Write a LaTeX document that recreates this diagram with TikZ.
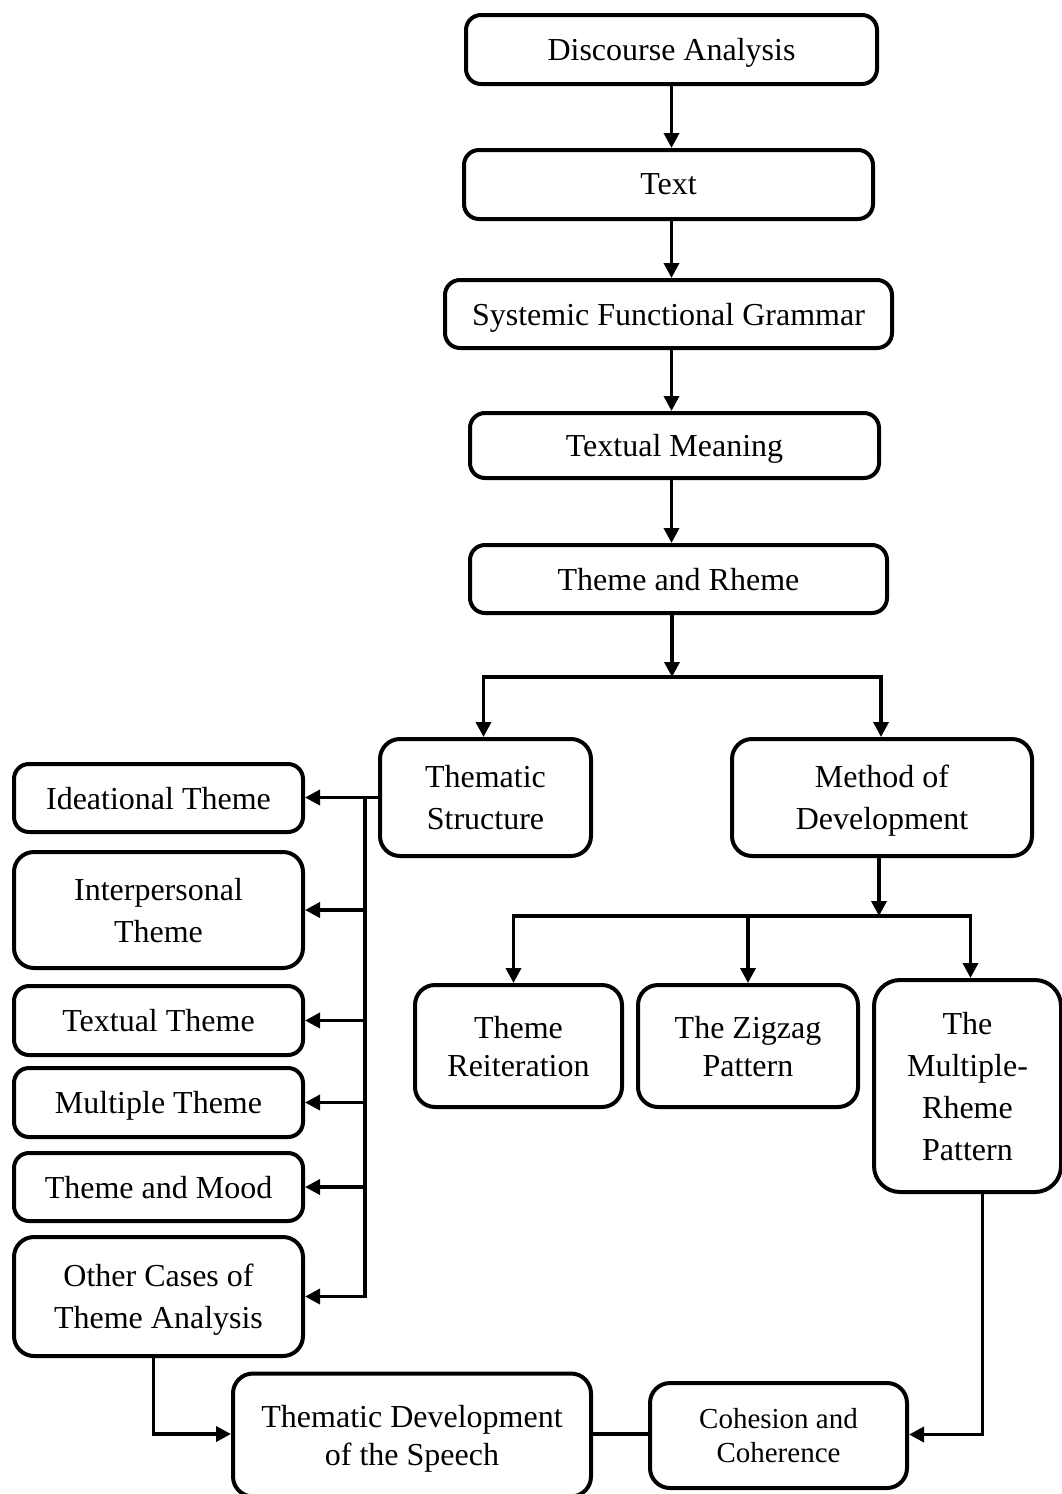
\documentclass[tikz,border=0pt]{standalone}
\usepackage{fontspec}
\setmainfont{Liberation Serif}
\usetikzlibrary{arrows.meta}
\begin{document}
\begin{tikzpicture}[x=1pt,y=-1pt,
  box/.style={draw=black, line width=4pt, rounded corners=15pt, align=center,
    inner sep=0pt, text depth=0pt, font=\fontsize{32}{42}\selectfont},
  tight/.style={font=\fontsize{32}{38}\selectfont},
  arr/.style={line width=3.5pt, -{Triangle[length=15pt,width=15pt]}},
  ln/.style={line width=3.5pt}]
\useasboundingbox[fill=white] (0,0) rectangle (1061,1494);

% main chain
\node[box, minimum width=411pt, minimum height=69pt] (da) at (671.5,49.5) {Discourse Analysis};
\node[box, minimum width=409pt, minimum height=69pt] (txt) at (668.5,184.5) {Text};
\node[box, minimum width=447pt, minimum height=68pt] (sfg) at (668.5,314) {Systemic Functional Grammar};
\node[box, minimum width=409pt, minimum height=65pt] (tm) at (674.5,445.5) {Textual Meaning};
\node[box, minimum width=417pt, minimum height=68pt] (tr) at (678.5,579) {Theme and Rheme};

% second level
\node[box, rounded corners=20pt, minimum width=211pt, minimum height=117pt] (ts) at (485.5,797.5) {Thematic\\Structure};
\node[box, rounded corners=20pt, minimum width=300pt, minimum height=117pt] (md) at (882,797.5) {Method of\\Development};

% patterns of development
\node[box, tight, rounded corners=20pt, minimum width=207pt, minimum height=122pt] (ri) at (518.5,1046) {Theme\\Reiteration};
\node[box, tight, rounded corners=20pt, minimum width=220pt, minimum height=122pt] (zz) at (748,1046) {The Zigzag\\Pattern};
\node[box, rounded corners=26pt, minimum width=187pt, minimum height=212pt] (mr) at (967.5,1086) {The\\Multiple-\\Rheme\\Pattern};

% kinds of theme
\node[box, minimum width=289pt, minimum height=68pt] (it) at (158.5,798) {Ideational Theme};
\node[box, rounded corners=20pt, minimum width=289pt, minimum height=116pt] (ip) at (158.5,910) {Interpersonal\\Theme};
\node[box, minimum width=289pt, minimum height=69pt] (tt) at (158.5,1020.5) {Textual Theme};
\node[box, minimum width=289pt, minimum height=69pt] (mt) at (158.5,1102.5) {Multiple Theme};
\node[box, minimum width=289pt, minimum height=68pt] (tmo) at (158.5,1187) {Theme and Mood};
\node[box, rounded corners=20pt, minimum width=289pt, minimum height=119pt] (oc) at (158.5,1296.5) {Other Cases of\\Theme Analysis};

% bottom row
\node[box, tight, rounded corners=20pt, minimum width=358pt, minimum height=123pt] (td) at (412,1435) {Thematic Development\\of the Speech};
\node[box, rounded corners=20pt, minimum width=257pt, minimum height=105pt,
  font=\fontsize{29}{34}\selectfont] (ch) at (778.5,1435.5) {Cohesion and\\Coherence};

% connectors of the main chain
\draw[arr] (da.south) -- (da.south |- txt.north);
\draw[arr] (txt.south -| da.south) -- (sfg.north -| da.south);
\draw[arr] (sfg.south -| da.south) -- (tm.north -| da.south);
\draw[arr] (tm.south -| da.south) -- (tr.north -| da.south);

% split below Theme and Rheme
\coordinate (j1) at (672,677);
\draw[arr] (tr.south -| j1) -- (j1);
\draw[arr] (j1) -| ([xshift=-2pt]ts.north);
\draw[arr] (j1) -| ([xshift=-1pt]md.north);

% split below Method of Development
\coordinate (j2) at (879,916);
\draw[arr] (md.south -| j2) -- (j2);
\draw[arr] (j2) -| ([xshift=-5pt]ri.north);
\draw[arr] (j2) -| (zz.north);
\draw[arr] (j2) -| ([xshift=3pt]mr.north);

% bus from Thematic Structure to the kinds of theme
\coordinate (bus) at (365,798);
\draw[arr] (ts.west) -- (ts.west -| it.east);
\draw[arr] (bus) |- (oc.east);
\draw[arr] (ip.east -| bus) -- (ip.east);
\draw[arr] (tt.east -| bus) -- (tt.east);
\draw[arr] (mt.east -| bus) -- (mt.east);
\draw[arr] (tmo.east -| bus) -- (tmo.east);

% bottom connections
\draw[arr] ([xshift=-5pt]oc.south) |- ([yshift=1pt]td.west);
\draw[ln] ([yshift=1pt]td.east) -- ([yshift=1pt]td.east -| ch.west);
\draw[arr] ([xshift=15pt]mr.south) |- ([yshift=1pt]ch.east);
\end{tikzpicture}
\end{document}
